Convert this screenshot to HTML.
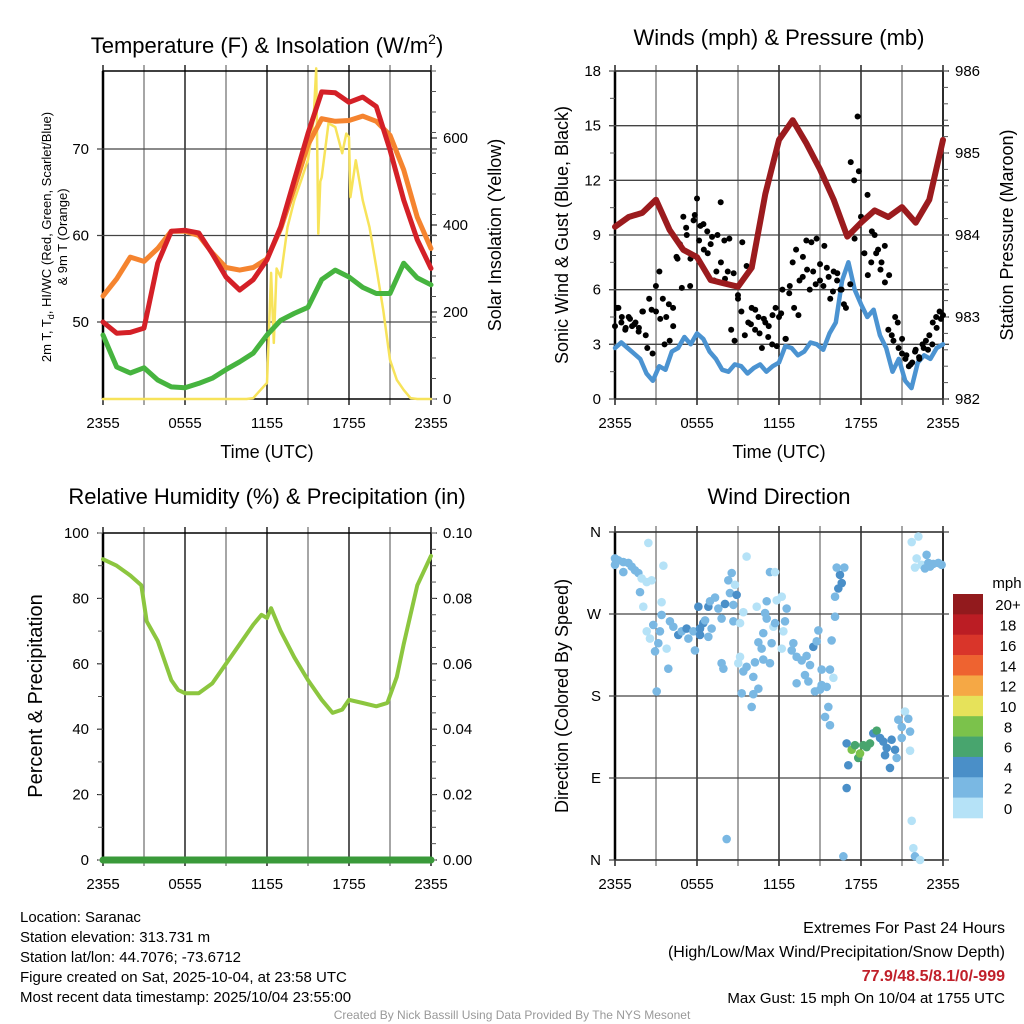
<!DOCTYPE html>
<html><head><meta charset="utf-8">
<style>
html,body{margin:0;padding:0;background:#fff;}
svg{display:block;font-family:"Liberation Sans",Arial,sans-serif;}
</style></head>
<body>
<svg id="chart" width="1024" height="1024" viewBox="0 0 1024 1024" xmlns="http://www.w3.org/2000/svg">
<rect width="1024" height="1024" fill="#fff"/>
<g id="p1"></g>
<g id="p2"></g>
<g id="p3"></g>
<g id="p4"></g>

<text x="267" y="53" font-size="22" text-anchor="middle">Temperature (F) &amp; Insolation (W/m<tspan font-size="14" dy="-9">2</tspan><tspan dy="9">)</tspan></text>
<text x="779" y="45" font-size="22" text-anchor="middle">Winds (mph) &amp; Pressure (mb)</text>
<text x="267" y="504" font-size="22" text-anchor="middle">Relative Humidity (%) &amp; Precipitation (in)</text>
<text x="779" y="504" font-size="22" text-anchor="middle">Wind Direction</text>

<text x="267" y="458" font-size="18" text-anchor="middle">Time (UTC)</text>
<text x="779" y="458" font-size="18" text-anchor="middle">Time (UTC)</text>

<text transform="translate(51,237) rotate(-90)" font-size="13" text-anchor="middle">2m T, T<tspan font-size="9" dy="3">d</tspan><tspan dy="-3">, HI/WC (Red, Green, Scarlet/Blue)</tspan></text>
<text transform="translate(67,237) rotate(-90)" font-size="13" text-anchor="middle">&amp; 9m T (Orange)</text>
<text transform="translate(501,235) rotate(-90)" font-size="18" text-anchor="middle">Solar Insolation (Yellow)</text>
<text transform="translate(568,235) rotate(-90)" font-size="18" text-anchor="middle">Sonic Wind &amp; Gust (Blue, Black)</text>
<text transform="translate(1013,235) rotate(-90)" font-size="18" text-anchor="middle">Station Pressure (Maroon)</text>
<text transform="translate(42,696) rotate(-90)" font-size="20" text-anchor="middle">Percent &amp; Precipitation</text>
<text transform="translate(568,696) rotate(-90)" font-size="18" text-anchor="middle">Direction (Colored By Speed)</text>

<g font-size="15">
<text x="20" y="922">Location: Saranac</text>
<text x="20" y="942">Station elevation: 313.731 m</text>
<text x="20" y="962">Station lat/lon: 44.7076; -73.6712</text>
<text x="20" y="982">Figure created on Sat, 2025-10-04, at 23:58 UTC</text>
<text x="20" y="1002">Most recent data timestamp: 2025/10/04 23:55:00</text>
</g>
<g font-size="16" text-anchor="end">
<text x="1005" y="933">Extremes For Past 24 Hours</text>
<text x="1005" y="957">(High/Low/Max Wind/Precipitation/Snow Depth)</text>
<text x="1005" y="981" fill="#c0202a" font-weight="bold">77.9/48.5/8.1/0/-999</text>
<text x="1005" y="1003" font-size="15">Max Gust: 15 mph On 10/04 at 1755 UTC</text>
</g>
<text x="512" y="1019" font-size="12" fill="#999" text-anchor="middle">Created By Nick Bassill Using Data Provided By The NYS Mesonet</text>
</svg>
<script>
// ---------- data ----------
const xTickLabels = ["2355","0555","1155","1755","2355"];
const hours = [0,1,2,3,4,5,6,7,8,9,10,11,12,13,14,15,16,17,18,19,20,21,22,23,24];
const temp2m = [50,48.7,48.8,49.3,56.8,60.5,60.6,60.3,57.9,55.2,53.7,54.9,57.2,61,66.4,71.8,76.6,76.5,75.4,76,74.9,69.9,64.1,59.5,56.2];
const temp9m = [53,55,57.5,57,58.5,60.5,60.5,60,58,56.3,56,56.3,57.3,60.8,65.5,70.5,73.5,73.2,73.3,73.8,73.2,71.6,67.6,62.1,58.5];
const dewpoint = [48.5,44.8,44.1,44.7,43.3,42.5,42.4,42.9,43.5,44.5,45.4,46.4,48.5,50.2,51,51.7,54.9,56,55.2,54,53.3,53.3,56.8,55.1,54.3];
const solarTimes = [0,10.5,11,11.5,12,12.3,12.5,12.7,13,13.5,14,14.5,15,15.4,15.6,15.75,15.9,16,16.5,17,17.5,17.8,18,18.1,18.5,19,19.5,20,20.5,21,21.5,22,22.5,23,24];
const solar = [0,0,2,20,37,290,129,300,280,395,457,503,550,640,760,380,500,510,634,625,565,610,602,464,549,457,395,303,205,90,44,21,2,0,0];
const tempTicks = [50,60,70];
const solarTicks = [0,200,400,600];

const windTicks = [0,3,6,9,12,15,18];
const pressTicks = [982,983,984,985,986];
const pressure = [984.1,984.22,984.27,984.43,984.06,983.82,983.73,983.45,983.41,983.37,983.6,984.5,985.16,985.4,985.12,984.8,984.43,983.98,984.15,984.3,984.22,984.34,984.15,984.43,985.16];
const windHalf = [2.8,3.1,2.8,2.5,2.2,1.4,1.0,1.8,1.6,2.6,2.8,3.4,3.0,3.6,3.3,2.6,2.2,1.6,1.5,1.9,1.8,1.4,1.7,1.9,1.5,1.8,2.0,2.9,2.8,2.4,2.6,3.1,3.0,2.7,3.6,4.2,6.5,7.5,6.0,5.2,4.5,4.9,3.5,2.8,1.5,2.2,1.0,0.6,2.0,2.4,2.2,2.8,3.0];
const gustA = [4,5,4.5,3.8,4.5,4,4.2,3.9,4.8,3.5,5.5,2.5,4.8,7,5.5,4.5,3.2,5,7.8,8.5,10,9,6.2,9.8,11,9.5,8.2,9.2,8.5,6.5,9,7.5,8.7,7,3.8,3.2,5.5,4.8,3.5,4.2,5,3.8,4.5,2.8,4.2,4,3,5,4.5,6,3.3,5.8,7.5,8.2,6.5,7.8,8.7,6,7,8.8,6.5,6.2,7.2,5.5,7,6.5,6,5.2,9,13,12,15.5,10,8,6.8,7.5,9,8.2,7.5,6.4,3.8,3.5,4.5,2.8,2.5,2.2,1.8,2.0,2.7,2.3,3.0,3.2,3.5,4.2,4.5,4.8,4.6];
const gustB = [5,4.2,3.9,4.4,4.1,3.7,4.8,2.8,4.9,6.2,4.4,3.0,5.2,4.0,7.7,6.1,9.4,7.7,10.1,8.7,9.6,8.0,8.9,7.0,10.8,6.6,8.8,6.9,5.7,8.6,7.3,4.1,4.9,3.6,4.4,3.4,4.6,2.9,4.7,3.3,6.2,5.0,4.6,6.7,7.1,8.6,6.3,7.4,8.4,6.7,5.9,6.9,6.0,5.0,6.3,8.8,12.5,9.9,11.2,9.2,8.0,7.1,8.4,6.8,3.2,4.2,3.3,2.4,1.9,2.6,2.2,2.8,2.7,3.0,3.9,4.4];

const rhTimes = [0,1,2,2.8,3.2,4,5,5.5,6,7,8,9,10,11,11.6,12,12.3,13,14,15,16,16.8,17.5,18,19,20,20.8,21.5,22,23,24];
const rh = [92,90,87,84,73,67,55,52,51,51,54,60,66,72,75,74,77,70,62,55,49,45,46,49,48,47,48,56,66,84,93];
const rhTicks = [0,20,40,60,80,100];
const precipTicks = ["0.00","0.02","0.04","0.06","0.08","0.10"];
const precip = [0,0];

const dirTicks = ["N","E","S","W","N"];
const dirTimes = [0,0.24,0.61,0.98,1.22,1.46,1.71,1.95,2.32,2.68,0,0.61,2.44,3.54,1.83,2.07,3.41,3.41,2.8,2.32,2.56,3.29,3.17,2.93,3.78,3.9,3.05,4.02,4.27,4.63,4.88,5.24,5.37,5.73,5.85,6.22,6.46,6.22,6.59,6.83,7.07,6.1,6.83,6.95,7.32,7.56,8.05,7.8,8.66,8.41,8.9,8.29,8.54,8.78,8.66,9.15,9.39,9.63,10.37,11.1,10.98,11.1,11.59,11.71,12.32,12.44,12.2,12.56,11.83,11.34,11.71,10.85,10.49,10.73,11.46,12.2,13.05,12.93,13.29,13.66,14.02,14.27,14.51,14.76,14.88,13.9,13.29,14.15,14.63,15.0,15.12,15.49,15.61,15.37,15.73,15.12,15.73,15.98,15.85,16.1,16.1,16.34,16.59,16.46,16.22,16.78,7.8,7.93,9.15,9.39,9.02,9.63,10.12,10.24,10.85,11.34,10.49,9.27,10.12,10.0,8.17,16.71,16.95,16.95,17.07,17.32,17.56,17.8,17.93,18.17,18.41,18.66,18.9,19.15,19.39,19.63,19.88,19.76,20.12,20.24,20.49,20.61,20.73,20.98,21.22,21.46,21.59,20.98,21.59,21.71,21.83,21.95,22.32,21.71,22.2,22.07,21.95,22.44,22.8,22.93,23.29,23.66,23.9,22.68,23.05];
const dirDeg = [331,329,327,326,322,318,315,309,305,307,324,316,348,323,294,278,283,269,258,251,243,251,238,229,232,210,185,262,256,247,251,254,243,251,230,247,260,254,263,245,254,278,278,284,288,276,281,265,280,293,291,307,315,302,262,260,272,333,278,284,271,265,256,260,251,262,289,276,285,316,316,249,239,232,238,232,238,230,223,219,224,214,234,240,252,203,194,196,185,187,192,190,168,157,148,209,209,200,241,267,289,298,304,313,321,321,216,210,223,207,216,212,201,217,220,216,188,183,182,168,23,4,79,128,104,121,126,112,117,126,124,128,139,142,134,130,123,115,101,132,121,112,154,146,163,155,141,134,120,43,13,4,0,349,355,331,321,324,335,326,325,326,324,320,322];
const dirSpeed = [3,3,3,3,3,3,3,1,1,1,3,3,1,1,3,1,1,3,3,1,1,3,3,3,1,3,3,3,3,5,3,5,3,3,3,5,5,5,3,3,3,5,5,3,3,3,5,3,3,3,5,3,3,1,3,1,1,1,1,3,3,3,1,3,1,3,1,3,1,3,1,3,3,3,3,1,3,3,3,3,3,3,5,3,3,3,3,3,3,3,3,3,3,3,3,3,3,1,3,3,3,5,5,5,3,3,3,3,1,3,1,3,3,3,3,3,3,3,3,3,3,3,5,5,5,9,7,7,9,7,7,7,5,7,5,5,5,5,5,5,5,3,3,3,1,3,3,3,1,1,1,3,1,1,1,1,1,1,3,3,3,3,3,3,3,3];
const cbarLabels = ["20+","18","16","14","12","10","8","6","4","2","0"];
const cbarColors = ["#921a1d","#bb1d24","#d9352a","#ee6330","#f5a845","#e6e25a","#7bc24b","#48a56e","#4a8fc8","#7ab8e3","#b5e2f7"];

// ---------- helpers ----------
const NS = "http://www.w3.org/2000/svg";
function mk(tag, attrs, parent){ const e=document.createElementNS(NS,tag); for(const k in attrs) e.setAttribute(k,attrs[k]); parent.appendChild(e); return e; }

function frame(g, x0, x1, y0, y1){
  // vertical grid every 3 h
  for(let i=0;i<=8;i++){
    const x = x0 + i*(x1-x0)/8;
    const l = mk("line",{x1:x,x2:x,y1:y0-6,y2:y1+6,stroke:(i%2? "#777":"#000"),"stroke-width":1.3},g);
    
    
  }
  for(let i=0;i<5;i++){
    const t = mk("text",{x:x0+i*(x1-x0)/4,y:y1+29,"font-size":15,"text-anchor":"middle"},g);
    t.textContent = xTickLabels[i];
    
    
  }
  const r = mk("rect",{x:x0,y:y0,width:x1-x0,height:y1-y0,fill:"none",stroke:"#000","stroke-width":1.5},g);
  
  
  mk("line",{x1:x0,x2:x0,y1:y0,y2:y1,stroke:"#000","stroke-width":2.5},g);
}
function hgrid(g,x0,x1,y,label,side){
  const l = mk("line",{x1:x0-6,x2:x1+6,y1:y,y2:y,stroke:"#444","stroke-width":1.3},g);
  
  
}
function ylabel(g,x,y,txt,anchor){
  const t = mk("text",{x:x,y:y+5,"font-size":15,"text-anchor":anchor},g);
  t.textContent = txt;
  
  
}
function minorTicks(g,x,y0,y1,n,dir){
  for(let i=0;i<=n;i++){ const y=y0+i*(y1-y0)/n; mk("line",{x1:x,x2:x+dir*5,y1:y,y2:y,stroke:"#555","stroke-width":1},g); }
}
function path(g, xs, ys, sx, sy, color, w, name){
  let d=""; for(let i=0;i<xs.length;i++){ d+=(i?"L":"M")+sx(xs[i]).toFixed(1)+","+sy(ys[i]).toFixed(1); }
  const p = mk("path",{d:d,fill:"none",stroke:color,"stroke-width":w,"stroke-linejoin":"round","stroke-linecap":"round"},g);
  
  
  return p;
}

// ---------- panel 1 ----------
(function(){
  const g=document.getElementById("p1");
  const x0=103,x1=431,y0=71,y1=399;
  const sx=t=>x0+t/24*(x1-x0);
  const sT=v=>322-(v-50)*8.65;
  const sS=v=>399-v*0.435;
  frame(g,x0,x1,y0,y1);
  tempTicks.forEach(v=>{ hgrid(g,x0,x1,sT(v)); ylabel(g,x0-14,sT(v),String(v),"end"); });
  solarTicks.forEach(v=>{ mk("line",{x1:x1,x2:x1+6,y1:sS(v),y2:sS(v),stroke:"#000"},g); ylabel(g,x1+12,sS(v),String(v),"start"); });
  minorTicks(g,x1,y1,y0,16,1);
  path(g,solarTimes,solar,sx,sS,"#f7e35a",2.5,"solar-insolation-line");
  path(g,hours,dewpoint,sx,sT,"#46b43f",5,"dewpoint-line");
  path(g,hours,temp9m,sx,sT,"#f5842f",5,"temp-9m-line");
  path(g,hours,temp2m,sx,sT,"#d42027",5,"temp-2m-line");
})();

// ---------- panel 2 ----------
(function(){
  const g=document.getElementById("p2");
  const x0=615,x1=943,y0=71,y1=399;
  const sx=t=>x0+t/24*(x1-x0);
  const sW=v=>y1-v*(y1-y0)/18;
  const sP=v=>y1-(v-982)*(y1-y0)/4;
  frame(g,x0,x1,y0,y1);
  windTicks.forEach(v=>{ hgrid(g,x0,x1,sW(v)); ylabel(g,x0-14,sW(v),String(v),"end"); });
  pressTicks.forEach(v=>{ mk("line",{x1:x1,x2:x1+6,y1:sP(v),y2:sP(v),stroke:"#000"},g); ylabel(g,x1+12,sP(v),String(v),"start"); });
  minorTicks(g,x1,y1,y0,20,1);
  minorTicks(g,x0,y1,y0,12,-1);
  const wt = windHalf.map((v,i)=>i*24/(windHalf.length-1));
  path(g,wt,windHalf,sx,sW,"#4b93d1",4.5,"sonic-wind-line");
  gustA.forEach((v,i)=>{ const c=mk("circle",{cx:sx(i*24/(gustA.length-1)),cy:sW(v),r:3,fill:"#000"},g);
    
     });
  gustB.forEach((v,i)=>{ const c=mk("circle",{cx:sx(0.15+i*23.7/(gustB.length-1)),cy:sW(v),r:3,fill:"#000"},g);
    
     });
  path(g,hours,pressure,sx,sP,"#9b1b1e",6,"pressure-line");
})();

// ---------- panel 3 ----------
(function(){
  const g=document.getElementById("p3");
  const x0=103,x1=431,y0=533,y1=860;
  const sx=t=>x0+t/24*(x1-x0);
  const sR=v=>y1-v*(y1-y0)/100;
  frame(g,x0,x1,y0,y1);
  rhTicks.forEach((v,i)=>{ mk("line",{x1:x0-6,x2:x0,y1:sR(v),y2:sR(v),stroke:"#000"},g); ylabel(g,x0-14,sR(v),String(v),"end");
    mk("line",{x1:x1,x2:x1+6,y1:sR(v),y2:sR(v),stroke:"#000"},g); ylabel(g,x1+12,sR(v),precipTicks[i],"start"); });
  minorTicks(g,x1,y1,y0,20,1);
  minorTicks(g,x0,y1,y0,10,-1);
  path(g,rhTimes,rh,sx,sR,"#8cc63f",4,"relative-humidity-line");
  path(g,[0,24],precip,sx,v=>y1-v*(y1-y0)/0.1,"#3a9a3a",7,"precipitation-line");
})();

// ---------- panel 4 ----------
(function(){
  const g=document.getElementById("p4");
  const x0=615,x1=943,y0=532,y1=860;
  const sx=t=>x0+t/24*(x1-x0);
  const sD=v=>y1-v*(y1-y0)/360;
  frame(g,x0,x1,y0,y1);
  dirTicks.forEach((s,i)=>{ hgrid(g,x0,x1,sD(i*90)); ylabel(g,x0-14,sD(i*90),s,"end"); });
  const colorFor=s=>cbarColors[10-Math.min(10,Math.floor(s/2))];
  dirTimes.forEach((t,i)=>{ const c=mk("circle",{cx:sx(t),cy:sD(dirDeg[i]),r:4.3,fill:colorFor(dirSpeed[i])},g);
    
     });
  const cb = mk("g",{},g);
  
  
  const h=224/11;
  cbarColors.forEach((c,i)=>{ mk("rect",{x:953,y:594+i*h,width:30,height:h+0.3,fill:c},cb);
    const t=mk("text",{x:1008,y:594+i*h+h/2+6,"font-size":15,"text-anchor":"middle"},cb); t.textContent=cbarLabels[i];
    
     });
  const u=mk("text",{x:1007,y:588,"font-size":15,"text-anchor":"middle"},cb); u.textContent="mph";
  
  
})();
</script>
</body></html>
